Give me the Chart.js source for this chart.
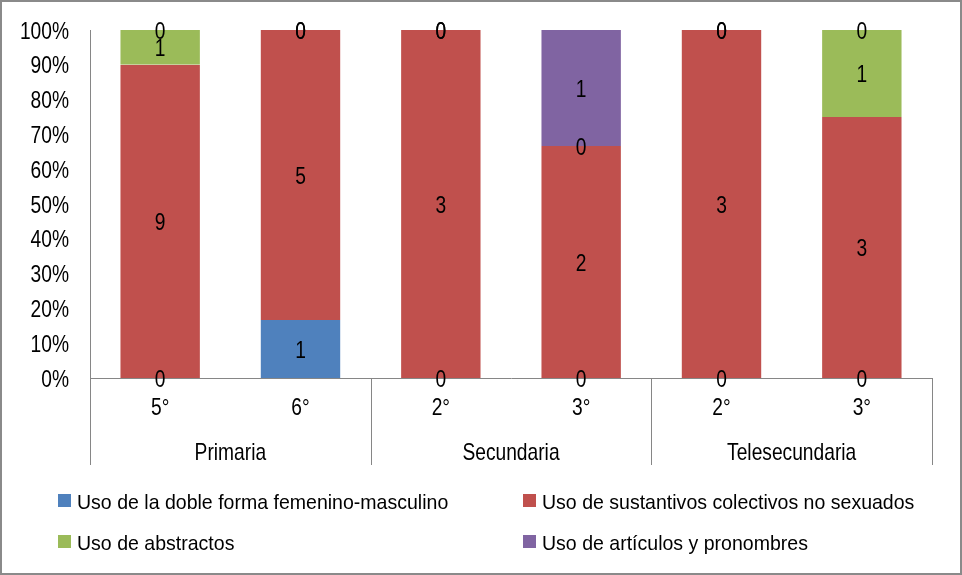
<!DOCTYPE html>
<html>
<head>
<meta charset="utf-8">
<script src="https://cdn.jsdelivr.net/npm/chart.js@4/dist/chart.umd.min.js"></script>
<style>
  html, body { margin: 0; padding: 0; background: #fff; }
  #wrap { width: 962px; height: 575px; position: relative; }
</style>
</head>
<body>
<div id="wrap"><canvas id="c" width="962" height="575"></canvas></div>
<script>
// Grades and school levels
const grades = ['5°', '6°', '2°', '3°', '2°', '3°'];
const levels = ['Primaria', 'Secundaria', 'Telesecundaria'];
const levelSpan = [2, 2, 2];

// Counts per strategy
const seriesNames = [
  'Uso de la doble forma femenino-masculino',
  'Uso de sustantivos colectivos no sexuados',
  'Uso de abstractos',
  'Uso de artículos y pronombres'
];
const dobleForma = [0, 1, 0, 0, 0, 0];
const colectivos = [9, 5, 3, 2, 3, 3];
const abstractos = [1, 0, 0, 0, 0, 1];
const articulos = [0, 0, 0, 1, 0, 0];
const yTicks = [0, 10, 20, 30, 40, 50, 60, 70, 80, 90, 100];

const colors = ['#4F81BD', '#C0504D', '#9BBB59', '#8064A2'];
const counts = [dobleForma, colectivos, abstractos, articulos];
const totals = grades.map((_, i) => counts.reduce((s, arr) => s + arr[i], 0));
const pct = arr => arr.map((v, i) => v / totals[i] * 100);

const FONT = '"Liberation Sans", Arial, sans-serif';
const AXIS_GRAY = '#868686';
const NARROW = 0.8;

// text drawn on the alphabetic baseline, squeezed horizontally
function drawText(ctx, text, x, baseline, size, scaleX, align) {
  ctx.save();
  ctx.font = size + 'px ' + FONT;
  ctx.textAlign = align;
  ctx.textBaseline = 'alphabetic';
  ctx.translate(x, baseline);
  ctx.scale(scaleX, 1);
  ctx.fillText(text, 0, 0);
  ctx.restore();
}

const labelsPlugin = {
  id: 'segmentLabels',
  afterDatasetsDraw(chart) {
    const ctx = chart.ctx;
    ctx.save();
    ctx.fillStyle = '#000';
    chart.data.datasets.forEach((ds, di) => {
      const meta = chart.getDatasetMeta(di);
      meta.data.forEach((el, i) => {
        const y = (el.y + el.base) / 2;
        drawText(ctx, String(counts[di][i]), el.x, y + 8.6, 24, NARROW, 'center');
      });
    });
    ctx.restore();
  }
};

const axisPlugin = {
  id: 'groupedAxis',
  afterDraw(chart) {
    const ctx = chart.ctx;
    const xs = chart.scales.x;
    const ys = chart.scales.y;
    const area = chart.chartArea;
    const half = (xs.getPixelForValue(1) - xs.getPixelForValue(0)) / 2;
    ctx.save();
    ctx.fillStyle = '#000';
    // percentage ticks
    yTicks.forEach(v => {
      drawText(ctx, v + '%', area.left - 21, ys.getPixelForValue(v) + 8.6, 24, NARROW, 'right');
    });
    // grade labels
    grades.forEach((g, i) => {
      drawText(ctx, g, xs.getPixelForValue(i), area.bottom + 37, 24, NARROW, 'center');
    });
    // level separators and labels
    ctx.strokeStyle = AXIS_GRAY;
    ctx.lineWidth = 1;
    let idx = 0;
    const bottomY = area.bottom + 87;
    const drawSep = x => {
      ctx.beginPath();
      ctx.moveTo(Math.round(x) + 0.5, area.bottom);
      ctx.lineTo(Math.round(x) + 0.5, bottomY);
      ctx.stroke();
    };
    drawSep(xs.getPixelForValue(0) - half);
    levels.forEach((lv, k) => {
      const x0 = xs.getPixelForValue(idx) - half;
      idx += levelSpan[k];
      const x1 = xs.getPixelForValue(idx - 1) + half;
      drawSep(x1);
      drawText(ctx, lv, (x0 + x1) / 2, area.bottom + 81.5, 24, NARROW, 'center');
    });
    // legend, two columns
    const pos = [[58, 494], [523, 494], [58, 535], [523, 535]];
    chart.data.datasets.forEach((ds, di) => {
      const [x, y] = pos[di];
      ctx.fillStyle = ds.backgroundColor;
      ctx.fillRect(x, y, 13, 13);
      ctx.fillStyle = '#000';
      drawText(ctx, ds.label, x + 19, y + 14.5, 21, 0.93, 'left');
    });
    // outer frame
    ctx.strokeStyle = '#8a8a8a';
    ctx.lineWidth = 2;
    ctx.strokeRect(1, 1, chart.width - 2, chart.height - 2);
    ctx.restore();
  }
};

new Chart(document.getElementById('c'), {
  type: 'bar',
  data: {
    labels: grades,
    datasets: counts.map((arr, di) => ({
      label: seriesNames[di],
      data: pct(arr),
      backgroundColor: colors[di],
      borderColor: 'rgba(255,255,255,0.25)',
      borderWidth: { left: 1, right: 1, top: 0, bottom: 0 },
      barPercentage: 0.58,
      categoryPercentage: 1
    }))
  },
  options: {
    responsive: false,
    animation: false,
    events: [],
    layout: { padding: { top: 30, right: 30, left: 0, bottom: 0 } },
    plugins: { legend: { display: false }, tooltip: { enabled: false } },
    scales: {
      x: {
        stacked: true,
        grid: { display: false },
        border: { display: true, color: AXIS_GRAY, width: 1 },
        ticks: { display: false },
        afterFit(scale) { scale.height = 197; }
      },
      y: {
        stacked: true,
        min: 0,
        max: 100,
        afterBuildTicks(scale) { scale.ticks = yTicks.map(v => ({ value: v })); },
        grid: { display: false },
        border: { display: true, color: AXIS_GRAY, width: 1 },
        ticks: { display: false },
        afterFit(scale) { scale.width = 90; }
      }
    }
  },
  plugins: [labelsPlugin, axisPlugin]
});
</script>
</body>
</html>
